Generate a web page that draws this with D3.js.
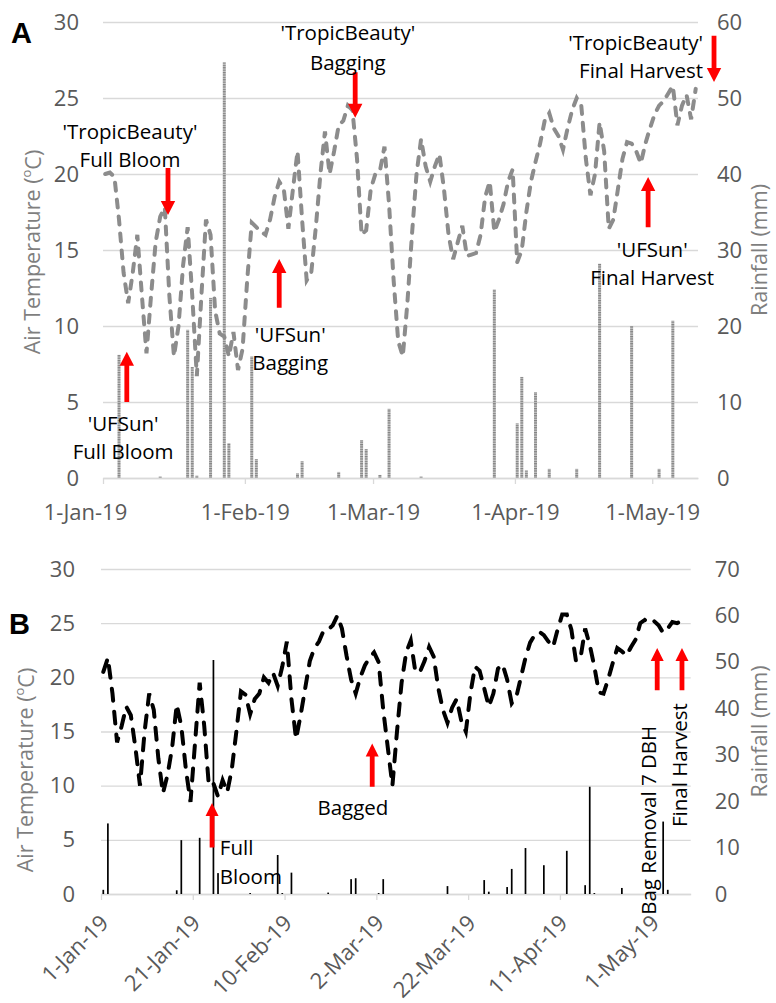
<!DOCTYPE html>
<html>
<head>
<meta charset="utf-8">
<script src="https://cdn.jsdelivr.net/npm/d3@7"></script>
<style>
  body { margin: 0; background: #fff; }
  text { font-family: "Open Sans", sans-serif; }
</style>
</head>
<body>
<svg id="chart" width="776" height="1003"></svg>
<script>
// ---- data (days counted from 1-Jan-19) ----
// Panel A: daily air temperature (ºC)
const tempA = [
  20.0, 20.1, 19.8, 17.0, 13.5, 11.5, 13.5, 16.0, 12.0, 8.2,
  12.0, 15.5, 17.2, 17.8, 12.0, 8.0, 10.0, 14.0, 16.5, 12.0,
  6.7, 12.0, 17.0, 16.0, 11.0, 9.5, 9.3, 8.0, 9.6, 7.1,
  8.5, 13.0, 16.8, 16.5, 16.2, 16.0, 17.0, 18.5, 19.5, 19.0,
  16.4, 19.0, 21.5, 17.0, 13.0, 13.5, 16.5, 20.0, 22.8, 20.0,
  21.5, 23.2, 23.5, 24.5, 24.2, 21.0, 16.0, 16.3, 19.0, 20.0,
  20.2, 21.8, 18.0, 13.0, 9.0, 8.0, 11.5, 16.0, 20.0, 22.3,
  20.5, 19.5, 20.5, 21.3, 19.0, 16.0, 14.4, 15.5, 16.6, 14.6,
  14.7, 14.8, 16.0, 18.5, 19.5, 16.2, 17.0, 18.0, 19.5, 20.3,
  14.2, 15.0, 17.5, 19.5, 20.8, 22.0, 23.5, 24.0, 23.0, 22.5,
  21.6, 23.0, 24.2, 25.0, 24.5, 21.0, 18.6, 20.0, 23.4, 21.5,
  16.4, 17.0, 19.0, 21.0, 22.1, 22.0, 21.5, 20.7, 22.0, 23.0,
  23.9, 24.5, 24.8, 25.3, 25.8, 23.2, 24.5, 25.2, 23.6, 25.6
];
// Panel A: rainfall (mm)
const rainDaysA = [3, 12, 18, 19, 20, 23, 26, 27, 32, 33, 42, 43, 51, 56, 57, 60, 62, 69,
  85, 90, 91, 92, 94, 97, 103, 108, 115, 121, 124];
const rainA = [16.2, 0.2, 19.5, 14.6, 0.3, 23.7, 54.7, 4.6, 16.0, 2.5, 0.6, 2.2, 0.8, 5.0, 3.8, 0.4, 9.1, 0.2,
  24.8, 7.2, 13.3, 1.0, 11.3, 1.2, 1.2, 28.2, 20.0, 1.2, 20.7];

// Panel B: daily air temperature (ºC)
const tempB = [
  20.5, 21.8, 18.5, 14.0, 15.5, 17.3, 16.5, 13.5, 10.0, 15.0,
  18.5, 17.0, 12.5, 9.3, 11.0, 13.5, 17.5, 15.5, 11.5, 8.5,
  14.0, 19.5, 15.5, 10.0, 10.2, 9.0, 10.5, 9.4, 11.5, 15.0,
  18.7, 18.4, 16.6, 18.0, 18.5, 20.0, 19.5, 20.4, 19.2, 21.0,
  23.3, 18.0, 14.3, 16.5, 19.0, 21.5, 22.7, 23.3, 24.3, 24.4,
  24.8, 25.7, 24.5, 22.0, 19.8, 18.5, 20.0, 21.1, 21.8, 22.3,
  21.4, 17.0, 13.5, 10.0, 15.0, 19.5, 22.3, 23.4, 20.5, 20.5,
  21.5, 22.8, 21.9, 19.0, 17.0, 15.8, 17.2, 18.0, 16.0, 15.0,
  18.5, 21.0, 20.6, 19.0, 17.3, 18.5, 20.8, 21.2, 19.8, 17.6,
  18.2, 20.0, 21.8, 23.2, 23.9, 24.2, 23.9, 23.3, 22.8, 24.4,
  25.8, 25.8, 24.4, 21.5, 21.8, 24.5, 23.0, 21.0, 18.6, 18.5,
  19.8, 21.3, 22.7, 22.4, 22.0, 22.8, 23.5, 25.0, 25.3, 25.0,
  25.2, 24.8, 24.1, 24.5, 25.1, 25.0, 25.2, 25.6
];
// Panel B: rainfall (mm)
const rainDaysB = [0, 1, 16, 17, 21, 24, 25, 32, 38, 39, 41, 49, 54, 55, 60, 61, 75, 83, 84,
  88, 89, 92, 96, 101, 105, 106, 107, 113, 122, 123];
const rainB = [0.9, 15.2, 0.8, 11.6, 12.1, 50.4, 4.5, 0.2, 8.4, 0.2, 4.6, 0.3, 3.2, 3.4, 0.2, 3.2, 1.7, 3.0, 0.5,
  1.5, 5.4, 9.9, 6.2, 9.3, 1.9, 23.1, 0.2, 1.3, 15.6, 0.9];

// axis ticks
const tempTicks = [0, 5, 10, 15, 20, 25, 30];
const rainTicksA = [0, 10, 20, 30, 40, 50, 60];
const rainTicksB = [0, 10, 20, 30, 40, 50, 60, 70];
const dateTicksA = [0, 31, 59, 90, 120];        // 1-Jan, 1-Feb, 1-Mar, 1-Apr, 1-May
const dateTicksB = [0, 20, 40, 60, 80, 100, 120]; // every 20 days

// annotations (day on x, temperature units on y)
const annotA = [
  {lines: ["'UFSun'", 'Full Bloom'], day: 5.2, from: 5.0, to: 8.3, textDay: 4.4, textT: [3.55, 1.7], anchor: 'middle'},
  {lines: ["'TropicBeauty'", 'Full Bloom'], day: 14.2, from: 20.4, to: 17.3, textDay: 5.9, textT: [22.8, 20.9], anchor: 'middle'},
  {lines: ["'UFSun'", 'Bagging'], day: 38.5, from: 11.2, to: 14.4, textDay: 40.9, textT: [9.4, 7.6], anchor: 'middle'},
  {lines: ["'TropicBeauty'", 'Bagging'], day: 55.1, from: 26.7, to: 23.7, textDay: 53.5, textT: [29.3, 27.3], anchor: 'middle'},
  {lines: ["'TropicBeauty'", 'Final Harvest'], day: 133.5, from: 29.1, to: 26.05, textDay: 131.1, textT: [28.6, 26.8], anchor: 'end'},
  {lines: ["'UFSun'", 'Final Harvest'], day: 119.1, from: 16.5, to: 19.8, textDay: 120.0, textT: [15.0, 13.2], anchor: 'middle'}
];
const annotB = [
  {lines: ['Full', 'Bloom'], day: 24.2, from: 4.3, to: 8.4, textDay: 25.9, textT: [4.25, 1.6], anchor: 'start'},
  {lines: ['Bagged'], day: 59.1, from: 9.9, to: 13.9, textDay: 54.9, textT: [8.0], anchor: 'middle'},
  {lines: ['Bag Removal 7 DBH'], day: 121.2, from: 18.8, to: 22.7, textDay: 119.4, textT: [6.8], rotate: true},
  {lines: ['Final Harvest'], day: 126.6, from: 18.8, to: 22.7, textDay: 126.2, textT: [11.9], rotate: true}
];

const svg = d3.select('#chart');
const day0 = Date.UTC(2019, 0, 1);
const toDate = d => new Date(day0 + d * 864e5);
const fmt = d3.utcFormat('%-d-%b-%y');

const gridColor = '#d9d9d9';
const tickColor = '#595959';
const titleColor = '#7f7f7f';

// hatch for the rainfall columns of panel A
const defs = svg.append('defs');
const pat = defs.append('pattern')
  .attr('id', 'hatchA')
  .attr('patternUnits', 'userSpaceOnUse')
  .attr('width', 3).attr('height', 2.4);
pat.append('rect').attr('width', 3).attr('height', 2.4).attr('fill', '#c6c6c6');
pat.append('rect').attr('width', 3).attr('height', 1.2).attr('fill', '#808080');

function arrow(g, x, yFrom, yTo, head, half) {
  const dir = yTo > yFrom ? 1 : -1;
  const sw = 2.4;
  const yb = yTo - dir * head;
  const p = [[x - sw, yFrom], [x + sw, yFrom], [x + sw, yb], [x + half, yb], [x, yTo], [x - half, yb], [x - sw, yb]];
  g.append('path').attr('d', 'M' + p.join('L') + 'Z').attr('fill', '#ff0000');
}

const render = cfg => {
  const {left, right, top, bottom} = cfg;
  const innerWidth = right - left;

  const xScale = d3.scaleUtc().domain([toDate(0), toDate(cfg.days)]).range([left, right]);
  const yScale = d3.scaleLinear().domain([0, 30]).range([bottom, top]);
  const rScale = d3.scaleLinear().domain([0, cfg.rainMax]).range([bottom, top]);

  const g = svg.append('g');

  // left axis + gridlines
  const yAxisG = g.append('g')
    .attr('transform', `translate(${left},0)`)
    .call(d3.axisLeft(yScale).tickValues(tempTicks).tickSize(-innerWidth).tickPadding(cfg.leftPad));
  yAxisG.select('.domain').remove();
  yAxisG.selectAll('line').attr('stroke', gridColor).attr('stroke-width', 1.3);
  yAxisG.selectAll('text').attr('fill', tickColor).style('font-size', '22px');

  // right axis
  const rAxisG = g.append('g')
    .attr('transform', `translate(${right},0)`)
    .call(d3.axisRight(rScale).tickValues(cfg.rainTicks).tickSize(0).tickPadding(cfg.rightPad));
  rAxisG.select('.domain').remove();
  rAxisG.selectAll('text').attr('fill', tickColor).style('font-size', '22px');

  // x axis
  const xAxisG = g.append('g')
    .attr('transform', `translate(0,${bottom})`)
    .call(d3.axisBottom(xScale).tickValues(cfg.dateTicks.map(toDate)).tickFormat(fmt)
      .tickSize(6).tickSizeOuter(0).tickPadding(cfg.xPad));
  xAxisG.select('.domain').attr('stroke', gridColor).attr('stroke-width', 1.3);
  xAxisG.selectAll('line').attr('stroke', gridColor).attr('stroke-width', 1.3);
  const xt = xAxisG.selectAll('text').attr('fill', tickColor).style('font-size', '22px');
  if (cfg.rotateX) {
    xt.attr('x', 0).attr('y', 0).attr('dy', '0.35em')
      .attr('text-anchor', 'end')
      .attr('transform', 'translate(3,25) rotate(-45)');
  } else {
    xt.filter((d, i) => i === 0).attr('dx', -18);
  }

  // rainfall columns
  g.append('g').selectAll('rect')
    .data(cfg.rainDays.map((d, i) => ({day: d, mm: cfg.rain[i]})))
    .enter().append('rect')
      .attr('x', d => xScale(toDate(d.day + 0.5)) - cfg.barW / 2)
      .attr('y', d => rScale(d.mm))
      .attr('width', cfg.barW)
      .attr('height', d => bottom - rScale(d.mm))
      .attr('fill', cfg.barFill);

  // temperature line
  const lineGenerator = d3.line()
    .x((d, i) => xScale(toDate(i + 0.5)))
    .y(d => yScale(d));
  g.append('path')
    .attr('d', lineGenerator(cfg.temp))
    .attr('fill', 'none')
    .attr('stroke', cfg.lineColor)
    .attr('stroke-width', 4)
    .attr('stroke-linecap', 'round')
    .attr('stroke-dasharray', cfg.dash);

  // axis titles
  const title = g.append('text')
    .attr('transform', `translate(${cfg.leftTitleX},${cfg.leftTitleY}) rotate(-90)`)
    .attr('text-anchor', 'middle')
    .attr('fill', titleColor)
    .style('font-size', '21.5px');
  title.append('tspan').text('Air Temperature (');
  title.append('tspan').text('o').style('font-size', '13px').attr('dy', '-0.7em');
  title.append('tspan').text('C)').attr('dy', '0.45em');

  g.append('text')
    .attr('transform', `translate(${cfg.rightTitleX},${(top + bottom) / 2}) rotate(-90)`)
    .attr('text-anchor', 'middle')
    .attr('fill', titleColor)
    .style('font-size', '21.5px')
    .text('Rainfall (mm)');

  // panel letter
  g.append('text')
    .attr('x', cfg.letterX).attr('y', cfg.letterY)
    .style('font-family', '"Liberation Sans", Arial, sans-serif')
    .style('font-weight', 'bold')
    .style('font-size', '29px')
    .attr('fill', '#000')
    .text(cfg.letter);

  // annotations
  cfg.annot.forEach(a => {
    const ax = xScale(toDate(a.day));
    arrow(g, ax, yScale(a.from), yScale(a.to), cfg.head, cfg.headHalf);
    const tx = xScale(toDate(a.textDay));
    a.lines.forEach((line, i) => {
      const ty = yScale(a.textT[i]);
      const t = g.append('text')
        .attr('fill', '#000')
        .style('font-size', '20.5px')
        .attr('dy', '0.35em')
        .text(line);
      if (a.rotate) {
        t.attr('transform', `translate(${tx},${ty}) rotate(-90)`).attr('text-anchor', 'middle');
      } else {
        t.attr('x', tx).attr('y', ty).attr('text-anchor', a.anchor);
      }
    });
  });
};

render({
  letter: 'A', letterX: 11, letterY: 43,
  left: 103, right: 698, top: 22, bottom: 478, days: 130,
  temp: tempA, rainDays: rainDaysA, rain: rainA, rainMax: 60, rainTicks: rainTicksA,
  dateTicks: dateTicksA, rotateX: false,
  leftPad: 24, rightPad: 19, xPad: 20,
  barW: 3, barFill: 'url(#hatchA)',
  lineColor: '#8c8c8c', dash: '8,9',
  leftTitleX: 40, leftTitleY: 252, rightTitleX: 767,
  annot: annotA, head: 14, headHalf: 7.2
});

render({
  letter: 'B', letterX: 9, letterY: 634,
  left: 101, right: 690.7, top: 569, bottom: 894, days: 128.5,
  temp: tempB, rainDays: rainDaysB, rain: rainB, rainMax: 70, rainTicks: rainTicksB,
  dateTicks: dateTicksB, rotateX: true,
  leftPad: 26, rightPad: 24, xPad: 8,
  barW: 1.7, barFill: '#000',
  lineColor: '#000', dash: '12,11',
  leftTitleX: 33, leftTitleY: 770, rightTitleX: 767,
  annot: annotB, head: 13, headHalf: 6.5
});
</script>
</body>
</html>
